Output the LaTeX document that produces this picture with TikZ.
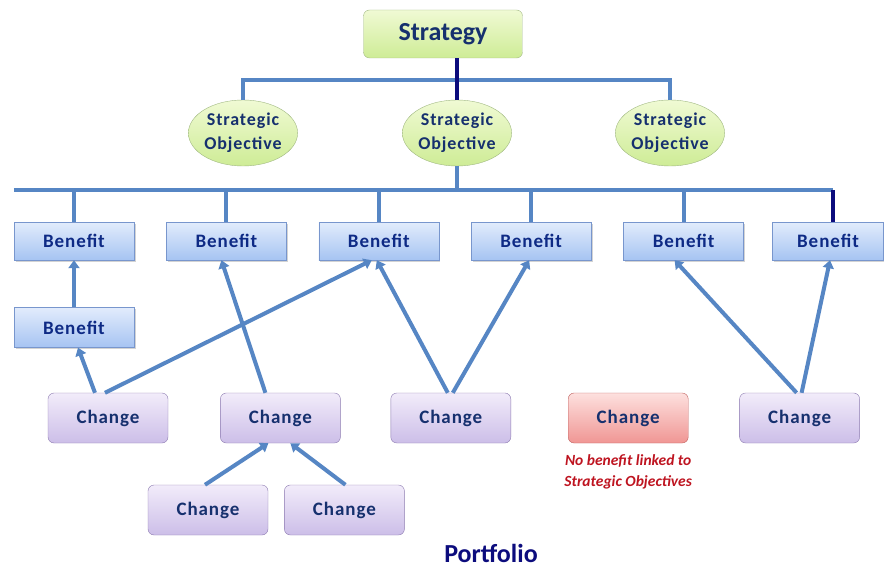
\documentclass[tikz,border=0pt]{standalone}
\usepackage{fontspec}
\setmainfont{Carlito}
\newfontfamily\spacedfont[LetterSpace=5]{Carlito}
\usetikzlibrary{positioning,shapes.geometric,arrows.meta,shadows}

\definecolor{linkblue}{RGB}{86,134,196}
\definecolor{navyline}{RGB}{12,12,125}
\definecolor{textnavy}{RGB}{22,48,110}
\definecolor{benefittext}{RGB}{14,42,133}
\definecolor{notered}{RGB}{190,20,32}
\definecolor{greentop}{RGB}{240,250,212}
\definecolor{greenbot}{RGB}{206,236,150}
\definecolor{greenedge}{RGB}{160,184,130}
\definecolor{bluetop}{RGB}{226,236,252}
\definecolor{bluebot}{RGB}{166,196,242}
\definecolor{blueedge}{RGB}{120,150,205}
\definecolor{violettop}{RGB}{242,236,250}
\definecolor{violetbot}{RGB}{204,190,232}
\definecolor{violetedge}{RGB}{140,122,176}
\definecolor{redtop}{RGB}{253,224,222}
\definecolor{redbot}{RGB}{240,150,148}
\definecolor{rededge}{RGB}{192,96,94}

\begin{document}
\begin{tikzpicture}[
        x=1pt,
        y=-1pt,
        strategy/.style={
                rectangle,
                rounded corners=6pt,
                draw=greenedge,
                top color=greentop,
                bottom color=greenbot,
                minimum width=159pt,
                minimum height=48pt,
                text=textnavy,
                font=\bfseries\fontsize{26}{28}\selectfont
            },
        objective/.style={
                ellipse,
                draw=greenedge,
                top color=greentop,
                bottom color=greenbot,
                minimum width=107pt,
                minimum height=66pt,
                inner sep=0pt,
                align=center,
                text=textnavy,
                font=\spacedfont\bfseries\fontsize{18}{24}\selectfont
            },
        benefit/.style={
                rectangle,
                draw=blueedge,
                top color=bluetop,
                bottom color=bluebot,
                minimum width=120pt,
                minimum height=38pt,
                text=benefittext,
                drop shadow={shadow xshift=1.5pt,shadow yshift=-1.5pt,opacity=0.35},
                font=\spacedfont\bfseries\fontsize{19}{22}\selectfont
            },
        change/.style={
                rectangle,
                rounded corners=6pt,
                draw=violetedge,
                top color=violettop,
                bottom color=violetbot,
                minimum width=120pt,
                minimum height=50pt,
                text=textnavy,
                font=\spacedfont\bfseries\fontsize{19}{22}\selectfont
            },
        orphan/.style={
                change,
                draw=rededge,
                top color=redtop,
                bottom color=redbot
            },
        note/.style={
                align=center,
                text=notered,
                font=\bfseries\itshape\fontsize{15.5}{21}\selectfont
            },
        tree/.style={
                draw=linkblue,
                line width=4pt
            },
        link/.style={
                -{Triangle[width=11pt,length=8pt]},
                draw=linkblue,
                line width=4pt
            }
    ]
    \useasboundingbox (0,0) rectangle (884,567);

    \node[strategy] (Strategy) at (443,34) {Strategy};
    \node[objective] (ObjA) at (243,133) {Strategic\\Objective};
    \node[objective] (ObjB) at (457,133) {Strategic\\Objective};
    \node[objective] (ObjC) at (670,133) {Strategic\\Objective};

    \node[benefit] (BenA) at (74,241) {Benefit};
    \node[benefit] (BenB) [right=32pt of BenA] {Benefit};
    \node[benefit] (BenC) [right=32pt of BenB] {Benefit};
    \node[benefit] (BenD) [right=32pt of BenC] {Benefit};
    \node[benefit] (BenE) [right=32pt of BenD] {Benefit};
    \node[benefit, minimum width=111pt] (BenF) at (828,241) {Benefit};
    \node[benefit, minimum height=40pt] (BenSub) [below=47pt of BenA] {Benefit};

    \node[change] (ChA) at (108,418) {Change};
    \node[change] (ChB) [right=52pt of ChA] {Change};
    \node[change] (ChC) [right=50pt of ChB] {Change};
    \node[orphan] (ChD) [right=57pt of ChC] {Change};
    \node[change] (ChE) [right=51pt of ChD] {Change};
    \node[change] (ChF) at (208,510) {Change};
    \node[change] (ChG) [right=16pt of ChF] {Change};

    \node[note] (Note) [below=8pt of ChD] {No benefit linked to\\Strategic Objectives};
    \node[text=navyline, font=\bfseries\fontsize{26}{28}\selectfont] (Portfolio) at (491,553) {Portfolio};

    \coordinate (TopBar) at (0,80);
    \coordinate (MidBar) at (0,190);

    \draw[tree] (ObjA.north) -- (ObjA.north |- TopBar) -- (ObjC.north |- TopBar) -- (ObjC.north);
    \draw[tree, draw=navyline] (ObjB.north |- Strategy.south) -- (ObjB.north);
    \draw[tree] (ObjB.south) -- (ObjB.south |- MidBar);
    \draw[tree] (BenA.north west |- MidBar) -- ([xshift=5pt]BenF.north |- MidBar);
    \foreach \b in {BenA,BenB,BenC,BenD,BenE}
        \draw[tree] (\b.north) -- (\b.north |- MidBar);
    \draw[tree, draw=navyline] ([xshift=5pt]BenF.north) -- ([xshift=5pt]BenF.north |- MidBar);

    \draw[link] (BenSub.north) -- (BenA.south);
    \draw[link] ([xshift=-13pt]ChA.north) -- ([xshift=4pt]BenSub.south);
    \draw[link] ([xshift=-3pt]ChA.north) -- ([xshift=-7pt]BenC.south);
    \draw[link] ([xshift=-15pt]ChB.north) -- ([xshift=-5pt]BenB.south);
    \draw[link] ([xshift=-3pt]ChC.north) -- ([xshift=-2pt]BenC.south);
    \draw[link] ([xshift=2pt]ChC.north) -- ([xshift=-2pt]BenD.south);
    \draw[link] ([xshift=-3pt]ChE.north) -- ([xshift=-9pt]BenE.south);
    \draw[link] ([xshift=2pt]ChE.north) -- ([xshift=2pt]BenF.south);
    \draw[link] ([xshift=-3pt]ChF.north) -- ([xshift=-12pt]ChB.south);
    \draw[link] ([xshift=1pt]ChG.north) -- ([xshift=10pt]ChB.south);
\end{tikzpicture}
\end{document}
